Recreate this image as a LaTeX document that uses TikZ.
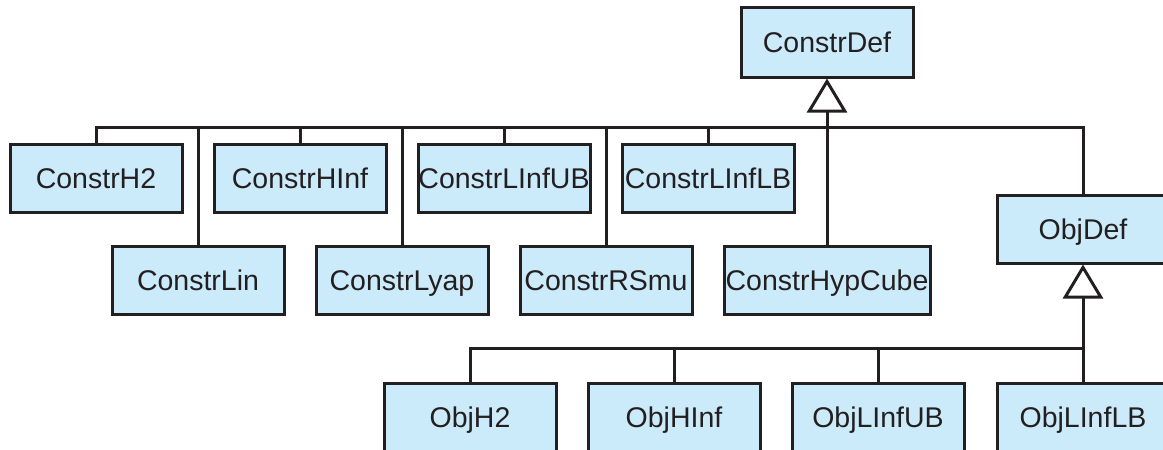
\documentclass[tikz,border=0pt]{standalone}
\usepackage{fontspec}
\setmainfont{Liberation Sans}
\usetikzlibrary{arrows.meta}
\definecolor{boxfill}{RGB}{203,234,250}
\definecolor{ink}{RGB}{35,31,32}
\tikzset{
  cls/.style={draw=ink, fill=boxfill, line width=3pt, inner sep=0pt,
    minimum width=172pt, minimum height=68pt, text=ink,
    font=\fontsize{28.5}{34}\selectfont, text height=20.4pt, text depth=0pt},
  conn/.style={draw=ink, line width=3pt},
  inherit/.style={conn, -{Triangle[open, length=34pt, width=40pt, line join=miter]}}
}
\begin{document}
\begin{tikzpicture}[x=1pt, y=-1pt]
\useasboundingbox (0,0) rectangle (1163,450);
\clip (0,0) rectangle (1163,450);
% nodes
\node[cls, minimum height=70pt] (cdef) at (827,42) {ConstrDef};
\node[cls] (ch2)   at (96,178)  {ConstrH2};
\node[cls] (chinf) at (300,178) {ConstrHInf};
\node[cls] (club)  at (504,178) {ConstrLInfUB};
\node[cls] (cllb)  at (708,178) {ConstrLInfLB};
\node[cls] (clin)  at (198,280) {ConstrLin};
\node[cls] (clyap) at (402,280) {ConstrLyap};
\node[cls] (crs)   at (606,280) {ConstrRSmu};
\node[cls, minimum width=206pt] (chyp) at (827,280) {ConstrHypCube};
\node[cls] (odef)  at (1083,229) {ObjDef};
\node[cls] (oh2)   at (470,417) {ObjH2};
\node[cls] (ohinf) at (674,417) {ObjHInf};
\node[cls] (olub)  at (878,417) {ObjLInfUB};
\node[cls] (ollb)  at (1083,417) {ObjLInfLB};
% buses
\coordinate (b1) at (827,127);
\coordinate (b2) at (1083,348);
\draw[conn] (ch2.north) |- (b1) -| (odef.north);
\foreach \n in {chinf,club,cllb,clin,clyap,crs}
  \draw[conn] (\n.north) -- (\n.north |- b1);
\draw[conn] (oh2.north) |- (b2);
\foreach \n in {ohinf,olub}
  \draw[conn] (\n.north) -- (\n.north |- b2);
% inheritance arrows
\draw[inherit] (chyp.north) -- (cdef.south);
\draw[inherit] (ollb.north) -- (odef.south);
\end{tikzpicture}
\end{document}
